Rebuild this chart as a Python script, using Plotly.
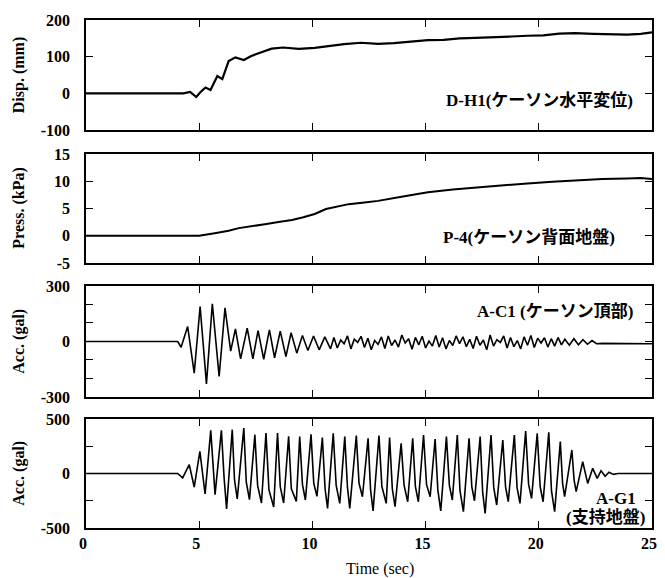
import plotly.graph_objects as go
from plotly.subplots import make_subplots

# ---------------- data ----------------
# Panel 1: D-H1 horizontal displacement (mm)
t_disp = [0, 4.3, 4.6, 4.87, 5.05, 5.28, 5.5, 5.8, 6.02, 6.3, 6.6, 6.97, 7.3, 7.77, 8.2, 8.7,
          9.4, 10.1, 10.7, 11.4, 12.15, 12.9, 13.6, 14.3, 15.1, 15.8, 16.5, 17.2, 18.0, 18.8,
          19.5, 20.2, 20.9, 21.6, 22.4, 23.2, 23.9, 24.5, 25.0]
v_disp = [0, 0, 4, -10, 3, 16, 9, 47, 39, 88, 98, 91, 102, 112, 122, 125,
          121, 124, 129, 134, 138, 135, 137, 141, 145, 146, 150, 151, 154, 155,
          157, 158, 163, 164, 162, 161, 160, 162, 166]

# Panel 2: P-4 pressure (kPa)
t_press = [0, 5.0, 5.75, 6.3, 6.75, 7.3, 7.9, 8.5, 9.1, 9.6, 10.1, 10.6, 11.1, 11.6, 12.3,
           12.9, 14.0, 15.1, 16.2, 17.3, 18.4, 19.5, 20.6, 21.7, 22.8, 23.9, 24.5, 25.0]
v_press = [0, 0, 0.5, 0.9, 1.4, 1.7, 2.1, 2.5, 2.9, 3.4, 4.0, 4.9, 5.4, 5.8, 6.1,
           6.4, 7.2, 8.0, 8.5, 8.9, 9.3, 9.6, 9.9, 10.2, 10.4, 10.5, 10.6, 10.4]

# Panel 3: A-C1 acceleration (gal)
t_ac1 = [0, 4.05, 4.2, 4.49, 4.78, 5.04, 5.32, 5.58, 5.88, 6.14, 6.39, 6.6, 6.83, 7.12, 7.37,
         7.6, 7.85, 8.1, 8.33, 8.58, 8.83, 9.06, 9.31, 9.56, 9.8, 10.05, 10.3, 10.55, 10.8,
         10.95, 11.1, 11.25, 11.4, 11.55, 11.7, 11.85, 12.0, 12.15, 12.3, 12.45, 12.6, 12.75,
         12.9, 13.05, 13.2, 13.35, 13.5, 13.65, 13.8, 13.95, 14.1, 14.25, 14.4, 14.55, 14.7,
         14.85, 15.0, 15.15, 15.3, 15.45, 15.6, 15.75, 15.9, 16.05, 16.2, 16.35, 16.5, 16.65,
         16.8, 16.95, 17.1, 17.25, 17.4, 17.55, 17.7, 17.85, 18.0, 18.15, 18.3, 18.45, 18.6,
         18.75, 18.9, 19.05, 19.2, 19.35, 19.5, 19.65, 19.8, 19.95, 20.1, 20.25, 20.4, 20.55,
         20.7, 20.85, 21.0, 21.15, 21.35, 21.55, 21.75, 21.95, 22.15, 22.35, 22.55, 22.8, 25.0]
v_ac1 = [0, 0, -31, 81, -171, 189, -229, 204, -189, 182, -52, 68, -94, 72, -94,
         59, -96, 63, -88, 56, -81, 47, -63, 32, -49, 30, -45, 25, -40,
         22, -35, 8, -12, 30, -40, 12, -5, 28, -32, 18, -45, 5,
         -15, 25, -38, 30, -22, 8, -30, 35, -8, 15, -42, 22, -18,
         28, -35, 2, -25, 32, -30, 20, -40, 5, -22, 30, -12, 25,
         -28, 12, -38, 28, -20, 8, -45, 35, -25, 10, -5, 30, -35,
         22, -28, 5, -40, 25, -20, 32, -32, 18, -8, 20, -30, 15,
         -25, 22, -18, 12, -20, 15, -18, 10, -15, 5, -12, -10, -12]

# Panel 4: A-G1 acceleration (gal)
t_ag1 = [0, 4.05, 4.27, 4.56, 4.78, 5.03, 5.26, 5.51, 5.7,
         5.98, 6.1, 6.21, 6.46, 6.56, 6.68, 6.97, 7.08, 7.22, 7.46, 7.58, 7.75,
         7.95, 8.08, 8.29, 8.46, 8.58, 8.73, 8.95, 9.07, 9.29, 9.44, 9.56, 9.69,
         9.94, 10.06, 10.2, 10.44, 10.56, 10.67, 10.92, 11.05, 11.21, 11.43, 11.55, 11.65,
         11.94, 12.06, 12.21, 12.46, 12.57, 12.68, 12.94, 13.07, 13.26, 13.41, 13.53, 13.65,
         13.92, 14.05, 14.21, 14.43, 14.55, 14.68, 14.91, 15.04, 15.2, 15.42, 15.54, 15.67,
         15.92, 16.05, 16.18, 16.4, 16.52, 16.67, 16.92, 17.04, 17.16, 17.41, 17.52, 17.63,
         17.89, 18.01, 18.14, 18.41, 18.53, 18.65, 18.92, 19.04, 19.17, 19.42, 19.55, 19.68,
         19.93, 20.06, 20.19, 20.44, 20.56, 20.7, 20.95, 21.05, 21.14, 21.46, 21.56, 21.65,
         21.94, 22.16, 22.38, 22.58, 22.75, 22.93, 23.1, 23.3, 23.5, 25.0]
v_ag1 = [0, 0, -41, 81, -124, 203, -188, 396, -194,
         396, -40, -326, 402, -60, -234, 417, -80, -240, 356, -110, -271,
         371, -150, -308, 371, -120, -271, 341, -140, -256, 338, -100, -243,
         359, -90, -210, 329, -140, -320, 368, -110, -274, 338, -130, -320,
         347, -90, -213, 322, -150, -344, 347, -120, -274, 329, -140, -305,
         276, -110, -259, 322, -120, -259, 353, -100, -213, 316, -150, -344,
         338, -110, -243, 353, -160, -350, 322, -120, -250, 338, -170, -366,
         353, -130, -289, 307, -120, -259, 353, -130, -274, 390, -100, -228,
         368, -120, -259, 377, -160, -350, 292, -90, -213, 216, -60, -167,
         108, -91, 47, -45, 25, -25, 12, -8, 0, 0]

labels = ["D-H1(ケーソン水平変位)", "P-4(ケーソン背面地盤)", "A-C1 (ケーソン頂部)", "A-G1", "(支持地盤)"]
y_titles = ["Disp. (mm)", "Press. (kPa)", "Acc. (gal)", "Acc. (gal)"]
x_ticks = [0, 5, 10, 15, 20, 25]

# ---------------- figure ----------------
SERIF = "Liberation Serif, Times New Roman, Noto Sans CJK JP"
fig = make_subplots(rows=4, cols=1, shared_xaxes=True)

series = [(t_disp, v_disp, 2.2), (t_press, v_press, 2.0), (t_ac1, v_ac1, 1.6), (t_ag1, v_ag1, 1.6)]
for i, (t, v, w) in enumerate(series, start=1):
    fig.add_trace(go.Scatter(x=t, y=v, mode="lines", line=dict(color="black", width=w),
                             showlegend=False), row=i, col=1)

domains = [[0.7835, 1.0], [0.5217, 0.7362], [0.2579, 0.4764], [0.0, 0.2146]]
y_cfg = [
    dict(range=[-100, 200], tickvals=[-100, 0, 100, 200], ticktext=["-100", "0", "100", "200"]),
    dict(range=[-5, 15], tickvals=[-5, 0, 5, 10, 15], ticktext=["-5", "0", "5", "10", "15"]),
    dict(range=[-300, 300], tickvals=[-300, -200, -100, 0, 100, 200, 300],
         ticktext=["-300", "", "", "0", "", "", "300"]),
    dict(range=[-500, 500], tickvals=[-500, -250, 0, 250, 500],
         ticktext=["-500", "", "0", "", "500"]),
]

tickfont = dict(family=SERIF, size=16, color="black", weight="bold")
for i in range(4):
    yname = "yaxis" if i == 0 else f"yaxis{i+1}"
    xname = "xaxis" if i == 0 else f"xaxis{i+1}"
    fig.layout[yname].update(domain=domains[i], showgrid=False, zeroline=False, automargin=False,
                             showline=True, linecolor="black", linewidth=1.6, mirror="ticks",
                             ticks="inside", ticklen=7, tickwidth=1.4, tickcolor="black",
                             tickfont=tickfont, ticklabelstandoff=11, tickmode="array",
                             ticklabeloverflow="allow", **y_cfg[i])
    fig.layout[xname].update(range=[0, 25], showgrid=False, zeroline=False, automargin=False,
                             showline=True, linecolor="black", linewidth=1.6, mirror="ticks",
                             ticks="inside", ticklen=7, tickwidth=1.4, tickcolor="black",
                             tickmode="array", tickvals=x_ticks,
                             ticktext=[str(v) for v in x_ticks], ticklabeloverflow="allow",
                             ticklabelshift=-3,
                             showticklabels=(i == 3), tickfont=tickfont)

ann_font = dict(family=SERIF, size=17, color="black", weight="bold")
centers = [(d[0] + d[1]) / 2 for d in domains]
for i, txt in enumerate(y_titles):
    fig.add_annotation(text=txt, xref="paper", yref="paper", x=-0.118, y=centers[i],
                       textangle=-90, showarrow=False, xanchor="center", yanchor="middle",
                       font=dict(family=SERIF, size=16, color="black", weight="bold"))

label_pos = [(0.970, 0.8425), (0.938, 0.5709), (0.970, 0.4252), (0.975, 0.059), (0.991, 0.0217)]
for txt, (x, y) in zip(labels, label_pos):
    fig.add_annotation(text=txt, xref="paper", yref="paper", x=x, y=y, showarrow=False,
                       xanchor="right", yanchor="middle", font=ann_font)

# x-axis title placed just under the tick labels
fig.add_annotation(text="Time (sec)", xref="paper", yref="paper", x=0.519, y=-0.0807,
                   showarrow=False, xanchor="center", yanchor="middle",
                   font=dict(family=SERIF, size=16, color="black"))

# the page body has an 8px default margin, so the figure is drawn 8px in from the top-left
fig.update_layout(width=649, height=570, margin=dict(l=78, r=5, t=12, b=50),
                  paper_bgcolor="white", plot_bgcolor="white")

fig.write_html("out.html")
